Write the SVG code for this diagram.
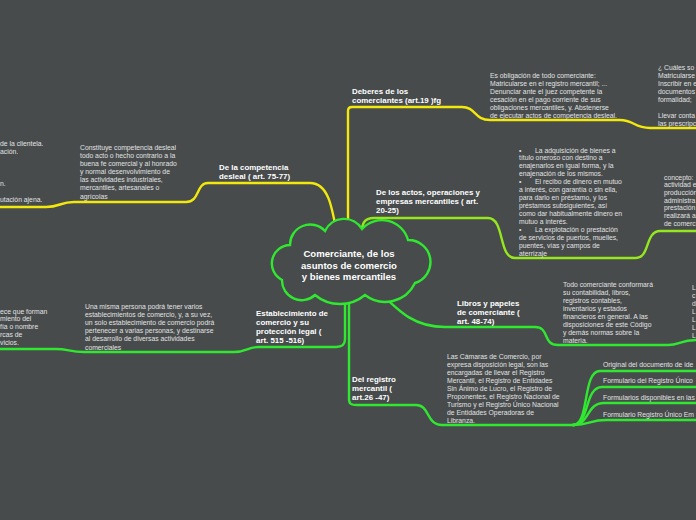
<svg xmlns="http://www.w3.org/2000/svg" width="696" height="520" viewBox="0 0 696 520">
<style>
.t{font-family:"Liberation Sans",Arial,sans-serif;font-size:6.8px;fill:#e2e2e2}
.l{font-family:"Liberation Sans",Arial,sans-serif;font-size:7.9px;font-weight:bold;fill:#ffffff}
.c{font-family:"Liberation Sans",Arial,sans-serif;font-size:9.6px;font-weight:bold;fill:#ffffff;text-anchor:middle}
.y{fill:none;stroke:#f2e80c;stroke-width:2.4;stroke-linecap:round}
.lg{fill:none;stroke:#96e81e;stroke-width:2.4;stroke-linecap:round}
.g{fill:none;stroke:#30e830;stroke-width:2.4;stroke-linecap:round}
</style>
<rect width="696" height="520" fill="#474b4c"/>
<g id="connectors">
<path class="y" d="M348 240 L348 111 Q348 107 352 107 L462 107 C476 107 474 120 490 120 L620 120 C634 120 634 128 650 128 L698 128"/>
<path class="y" d="M338 240 C332 205 328 183 310 183 L208 183 C196 183 200 202 186 202 L74 202 C60 202 60 207 46 207 L-2 207"/>
<path class="lg" d="M360 240 C362 222 364 218 374 218 L488 218 C505 218 498 258 515 258 L636 258 C650 258 645 231 660 231 L698 231"/>
<path class="g" d="M372 285 C398 310 412 327 445 327 L535 327 C550 327 542 345 558 345 L668 345 C680 345 680 340 698 340"/>
<path class="g" d="M345 290 L345 339 C345 345 342 347 336 347 L258 347 C248 347 246 352 234 352 L84 352 C70 352 68 349 56 349 L-2 349"/>
<path class="g" d="M349 290 L349 399 C349 404 351 405 357 405 L416 405 C430 405 426 425 442 425 L575 425"/>
<path class="g" d="M573 425 C590 425 582 371 600 371 L698 371"/>
<path class="g" d="M573 425 C590 425 584 387 602 387 L698 387"/>
<path class="g" d="M573 425 C590 425 586 403 604 403 L698 403"/>
<path class="g" d="M573 425 C590 425 590 420 606 420 L698 420"/>
</g>
<g id="central">
<path d="M290 245 A20.2 20.2 0 0 1 325 231 A21 21 0 0 1 362 229 A27 27 0 0 1 408 240 A22 22 0 0 1 415 283 A33 33 0 0 1 365 295 A39 39 0 0 1 315 295 A19.7 19.7 0 0 1 282 280 A18.5 18.5 0 0 1 290 245 Z" fill="#474b4c" stroke="#30e830" stroke-width="2.4"/>
<text class="c" x="349" y="257">Comerciante, de los</text>
<text class="c" x="349" y="268.6">asuntos de comercio</text>
<text class="c" x="349" y="280.2">y bienes mercantiles</text>
</g>
<g id="deberes">
<text class="l" x="352" y="94">Deberes de los</text>
<text class="l" x="352" y="103">comerciantes (art.19 )fg</text>
</g>
<g id="deberes-texto">
<text class="t"><tspan x="490" y="77.5">Es obligación de todo comerciante:</tspan><tspan x="490" y="85.5">Matricularse en el registro mercantil; ...</tspan><tspan x="490" y="93.5">Denunciar ante el juez competente la</tspan><tspan x="490" y="101.5">cesación en el pago corriente de sus</tspan><tspan x="490" y="109.5">obligaciones mercantiles, y. Abstenerse</tspan><tspan x="490" y="117.5">de ejecutar actos de competencia desleal.</tspan></text>
</g>
<g id="deberes-cuales">
<text class="t"><tspan x="658" y="69.5">¿ Cuáles so</tspan><tspan x="658" y="77.5">Matricularse</tspan><tspan x="658" y="85.5">Inscribir en e</tspan><tspan x="658" y="93.5">documentos</tspan><tspan x="658" y="101.5">formalidad;</tspan><tspan x="658" y="117.5">Llevar conta</tspan><tspan x="658" y="125.5">las prescripc</tspan></text>
</g>
<g id="competencia">
<text class="l" x="219" y="170">De la competencia</text>
<text class="l" x="219" y="179">desleal ( art. 75-77)</text>
</g>
<g id="competencia-texto">
<text class="t"><tspan x="80" y="149.5">Constituye competencia desleal</tspan><tspan x="80" y="157.7">todo acto o hecho contrario a la</tspan><tspan x="80" y="165.8">buena fe comercial y al honrado</tspan><tspan x="80" y="174">y normal desenvolvimiento de</tspan><tspan x="80" y="182.2">las actividades industriales,</tspan><tspan x="80" y="190.3">mercantiles, artesanales o</tspan><tspan x="80" y="198.5">agrícolas</tspan></text>
</g>
<g id="competencia-izq">
<text class="t"><tspan x="0" y="145.5">de la clientela.</tspan><tspan x="0" y="153.5">ación.</tspan><tspan x="0" y="185.5">n.</tspan><tspan x="0" y="201.5">utación ajena.</tspan></text>
</g>
<g id="actos">
<text class="l" x="376" y="195">De los actos, operaciones y</text>
<text class="l" x="376" y="204">empresas mercantiles ( art.</text>
<text class="l" x="376" y="213">20-25)</text>
</g>
<g id="actos-texto">
<text class="t"><tspan x="519" y="152.5">•</tspan><tspan x="535" y="152.5">La adquisición de bienes a</tspan><tspan x="519" y="160.4">título oneroso con destino a</tspan><tspan x="519" y="168.3">enajenarlos en igual forma, y la</tspan><tspan x="519" y="176.3">enajenación de los mismos.</tspan><tspan x="519" y="184.2">•</tspan><tspan x="535" y="184.2">El recibo de dinero en mutuo</tspan><tspan x="519" y="192.1">a interés, con garantía o sin ella,</tspan><tspan x="519" y="200">para darlo en préstamo, y los</tspan><tspan x="519" y="207.9">préstamos subsiguientes, así</tspan><tspan x="519" y="215.9">como dar habitualmente dinero en</tspan><tspan x="519" y="223.8">mutuo a interés.</tspan><tspan x="519" y="231.7">•</tspan><tspan x="535" y="231.7">La explotación o prestación</tspan><tspan x="519" y="239.6">de servicios de puertos, muelles,</tspan><tspan x="519" y="247.5">puentes, vías y campos de</tspan><tspan x="519" y="255.5">aterrizaje</tspan></text>
</g>
<g id="actos-concepto">
<text class="t"><tspan x="664" y="179.5">concepto:</tspan><tspan x="664" y="187.2">actividad e</tspan><tspan x="664" y="194.9">producción</tspan><tspan x="664" y="202.6">administra</tspan><tspan x="664" y="210.3">prestación</tspan><tspan x="664" y="218">realizará a</tspan><tspan x="664" y="225.7">de comerc</tspan></text>
</g>
<g id="libros">
<text class="l" x="457" y="306">Libros y papeles</text>
<text class="l" x="457" y="315">de comerciante (</text>
<text class="l" x="457" y="324">art. 48-74)</text>
</g>
<g id="libros-texto">
<text class="t"><tspan x="563" y="286.5">Todo comerciante conformará</tspan><tspan x="563" y="294.5">su contabilidad, libros,</tspan><tspan x="563" y="302.5">registros contables,</tspan><tspan x="563" y="310.5">inventarios y estados</tspan><tspan x="563" y="318.5">financieros en general. A las</tspan><tspan x="563" y="326.5">disposiciones de este Código</tspan><tspan x="563" y="334.5">y demás normas sobre la</tspan><tspan x="563" y="342.5">materia.</tspan></text>
</g>
<g id="libros-der">
<text class="t"><tspan x="692" y="289.5">L</tspan><tspan x="692" y="297.5">c</tspan><tspan x="692" y="305.5">d</tspan><tspan x="692" y="313.5">L</tspan><tspan x="692" y="321.5">L</tspan><tspan x="692" y="329.5">L</tspan><tspan x="692" y="337.5">L</tspan></text>
</g>
<g id="establecimiento">
<text class="l" x="256" y="316">Establecimiento de</text>
<text class="l" x="256" y="325">comercio y su</text>
<text class="l" x="256" y="334">protección legal (</text>
<text class="l" x="256" y="342.5">art. 515 -516)</text>
</g>
<g id="establecimiento-texto">
<text class="t"><tspan x="85" y="308.5">Una misma persona podrá tener varios</tspan><tspan x="85" y="316.7">establecimientos de comercio, y, a su vez,</tspan><tspan x="85" y="324.9">un solo establecimiento de comercio podrá</tspan><tspan x="85" y="333.1">pertenecer a varias personas, y destinarse</tspan><tspan x="85" y="341.3">al desarrollo de diversas actividades</tspan><tspan x="85" y="349.5">comerciales</tspan></text>
</g>
<g id="establecimiento-izq">
<text class="t"><tspan x="0" y="313.5">ece que forman</tspan><tspan x="0" y="321.3">miento del</tspan><tspan x="0" y="329.1">fía o nombre</tspan><tspan x="0" y="336.9">rcas de</tspan><tspan x="0" y="344.7">vicios.</tspan></text>
</g>
<g id="registro">
<text class="l" x="352" y="382">Del registro</text>
<text class="l" x="352" y="391">mercantil (</text>
<text class="l" x="352" y="400">art.26 -47)</text>
</g>
<g id="registro-texto">
<text class="t"><tspan x="447" y="358.5">Las Cámaras de Comercio, por</tspan><tspan x="447" y="366.5">expresa disposición legal, son las</tspan><tspan x="447" y="374.5">encargadas de llevar el Registro</tspan><tspan x="447" y="382.5">Mercantil, el Registro de Entidades</tspan><tspan x="447" y="390.5">Sin Ánimo de Lucro, el Registro de</tspan><tspan x="447" y="398.5">Proponentes, el Registro Nacional de</tspan><tspan x="447" y="406.5">Turismo y el Registro Único Nacional</tspan><tspan x="447" y="414.5">de Entidades Operadoras de</tspan><tspan x="447" y="422.5">Libranza.</tspan></text>
</g>
<g id="registro-doc1"><text class="t" x="603" y="366.5">Original del documento de ide</text></g>
<g id="registro-doc2"><text class="t" x="603" y="383">Formulario del Registro Único</text></g>
<g id="registro-doc3"><text class="t" x="603" y="399.5">Formularios disponibles en las</text></g>
<g id="registro-doc4"><text class="t" x="603" y="416.5">Formulario Registro Único Em</text></g>
</svg>
